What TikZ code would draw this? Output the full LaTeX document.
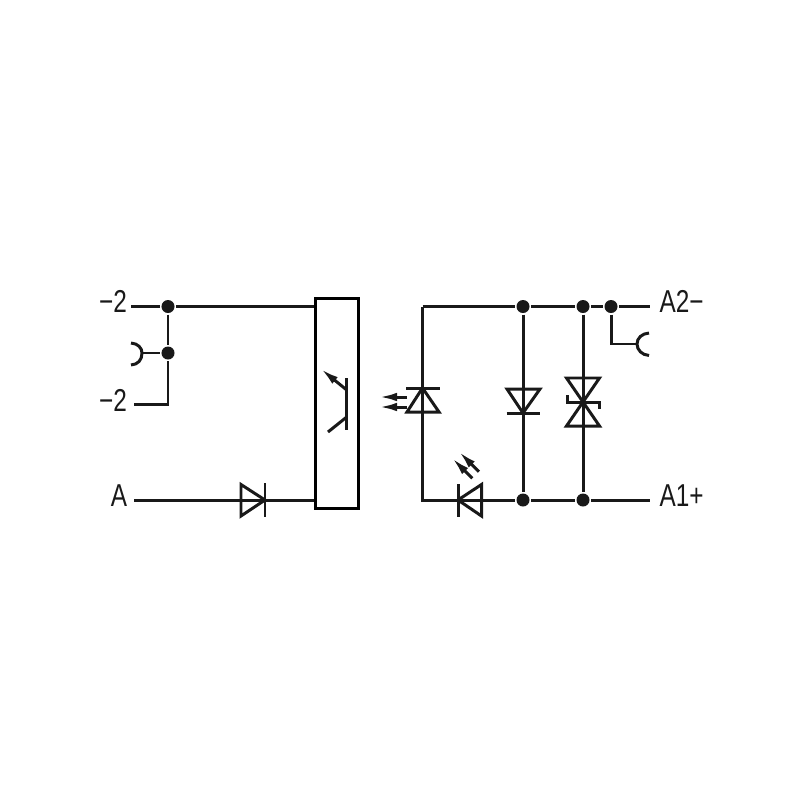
\documentclass[tikz,border=0pt]{standalone}
\usepackage{fontspec}
\usepackage{tikz}
\usetikzlibrary{arrows.meta}
\setmainfont[FakeStretch=0.77]{Liberation Sans}

\begin{document}
\begin{tikzpicture}[x=0.01cm, y=-0.01cm, line width=0.85pt, line cap=butt, line join=miter,
        dot_style/.style={circle,fill=black!90,draw=none,inner sep=0pt,minimum size=0.13cm},
        box_style/.style={rectangle,draw,fill=white,inner sep=0pt,minimum width=0.425cm,minimum height=2.09cm},
        text_style/.style={inner sep=0pt,font=\fontsize{9pt}{10pt}\selectfont,text=black!90},
        edge_style/.style={draw=black!90},
        symbol_style/.style={draw=black!90,fill=none},
        arrow_style/.style={draw=black!90,-{Latex[length=0.18cm,width=0.085cm]}}]

        \useasboundingbox (0,0) rectangle (800,800);

        % junctions
        \node [dot_style](d1) at (168,306.5) {};
        \node [dot_style](d2) at (168,353) {};
        \node [dot_style](d3) at (523,306.5) {};
        \node [dot_style](d4) at (583,306.5) {};
        \node [dot_style](d5) at (611,306.5) {};
        \node [dot_style](d6) at (523,500) {};
        \node [dot_style](d7) at (583,500) {};

        % free ends
        \coordinate (c1) at (131,306.5);
        \coordinate (c2) at (134,404);
        \coordinate (c3) at (168,404);
        \coordinate (c4) at (134,500);
        \coordinate (c5) at (316,306.5);
        \coordinate (c6) at (316,500);
        \coordinate (c8) at (422.5,306.5);
        \coordinate (c9) at (422.5,500);
        \coordinate (c10) at (650,306.5);
        \coordinate (c11) at (650,500);
        \coordinate (c12) at (611,344);
        \coordinate (c13) at (637,344);
        \coordinate (c14) at (142,353);

        % labels
        \node [text_style,anchor=base east](t1) at (128.5,312) {−2};
        \node [text_style,anchor=base east](t2) at (128.5,411) {−2};
        \node [text_style,anchor=base east](t3) at (128.5,506.5) {A};
        \node [text_style,anchor=base west](t4) at (658,312) {A2−};
        \node [text_style,anchor=base west](t5) at (658,506.5) {A1+};

        % wiring
        \draw [edge_style] (c1) -- (d1) -- (c5);
        \draw [edge_style] (d1) -- (d2) -- (c3) -- (c2);
        \draw [edge_style] (c14) -- (d2);
        \draw [edge_style] (c4) -- (c6);
        \draw [edge_style] (c8) -- (d3) -- (d4) -- (d5) -- (c10);
        \draw [edge_style] (c8) -- (c9) -- (d6) -- (d7) -- (c11);
        \draw [edge_style] (d3) -- (d6);
        \draw [edge_style] (d4) -- (d7);
        \draw [edge_style] (d5) -- (c12) -- (c13);

        % coupler
        \node [box_style](box) at (337.25,403.5) {};
        \draw [symbol_style] (346.7,378) -- (346.7,430);
        \draw [arrow_style] (346.7,390) -- (321,369);
        \draw [symbol_style] (346.7,417) -- (328,432);

        % sockets
        \draw [symbol_style] (131,343) .. controls (138,343.5) and (142,348) .. (c14) .. controls (142,360) and (138,364.5) .. (131,365);
        \draw [symbol_style] (649,333) .. controls (642,333.5) and (637,338) .. (c13) .. controls (637,350) and (642,355) .. (649,355.5);

        % input diode
        \draw [symbol_style] (241,484.5) -- (265,500) -- (241,516) -- cycle;
        \draw [symbol_style] (265,483) -- (265,517);

        % upper led
        \draw [symbol_style] (407,412) -- (422.5,388) -- (439,412) -- cycle;
        \draw [symbol_style] (406,388) -- (440,388);
        \draw [arrow_style] (407,397) -- (379,397);
        \draw [arrow_style] (407,407) -- (379,407);

        % lower led
        \draw [symbol_style] (481.5,484.5) -- (458,500) -- (481.5,516) -- cycle;
        \draw [symbol_style] (458,484) -- (458,517);
        \draw [arrow_style] (472.3,478.3) -- (452.3,458.3);
        \draw [arrow_style] (479,471.7) -- (459,451.7);

        % parallel diode
        \draw [symbol_style] (507,389) -- (523,413) -- (540,389) -- cycle;
        \draw [symbol_style] (506.5,413) -- (540,413);

        % suppressor
        \draw [symbol_style] (566.5,378) -- (583,402) -- (599.5,378) -- cycle;
        \draw [symbol_style] (566.5,426) -- (583,402) -- (599.5,426) -- cycle;
        \draw [symbol_style] (567,395) -- (567,402) -- (599,402) -- (599,409);
\end{tikzpicture}
\end{document}
